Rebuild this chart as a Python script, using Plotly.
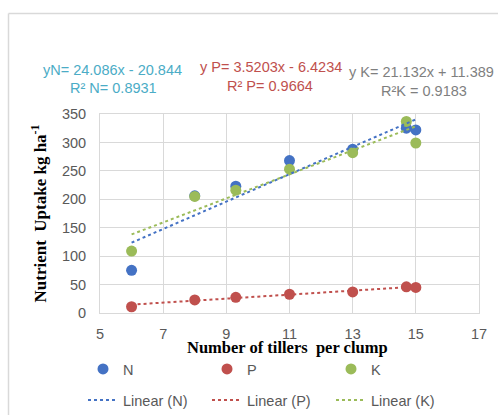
import plotly.graph_objects as go

tillers = [6, 8, 9.3, 11, 13, 14.7, 15]
N_vals = [75, 206, 223, 268, 288, 325, 322]
P_vals = [11, 23, 27.5, 33, 37, 46, 45]
K_vals = [109, 205, 216, 253, 282, 337, 299]

# trendline coefficients (slope, intercept) as printed on chart
N_fit = (24.086, -20.844)
P_fit = (3.5203, -6.4234)
K_fit = (21.132, 11.389)

x_ticks = [5, 7, 9, 11, 13, 15, 17]
y_ticks = [0, 50, 100, 150, 200, 250, 300, 350]

C_N, C_P, C_K = "#4472C4", "#C0504D", "#9BBB59"

W, H = 498, 415
L, R, T, B = 100, 19, 114, 102
pw, ph = W - L - R, H - T - B

def px(xp):
    return (xp - L) / pw

def py(yp):
    return (H - B - yp) / ph

fig = go.Figure()
for name, vals, col in [("N", N_vals, C_N), ("P", P_vals, C_P), ("K", K_vals, C_K)]:
    fig.add_trace(go.Scatter(x=tillers, y=vals, mode="markers", name=name,
                             marker=dict(color=col, size=11), legend="legend",
                             cliponaxis=False))

xmin, xmax = min(tillers), max(tillers)
for name, fit, col in [("N", N_fit, C_N), ("P", P_fit, C_P), ("K", K_fit, C_K)]:
    xs = [xmin, xmax]
    ys = [fit[0] * v + fit[1] for v in xs]
    fig.add_trace(go.Scatter(x=xs, y=ys, mode="lines", name=f"Linear ({name})",
                             line=dict(color=col, width=2, dash="dot"), legend="legend2"))

tickfont = dict(family="Liberation Sans, Arial", size=14.5, color="#595959")
fig.update_xaxes(range=[5, 17], tickvals=x_ticks, showgrid=True, gridcolor="#D9D9D9", gridwidth=1,
                 showline=True, linecolor="#D9D9D9", mirror=True, zeroline=False,
                 tickfont=tickfont, ticks="", ticklen=0, ticklabelstandoff=8)
fig.update_yaxes(range=[0, 350], tickvals=y_ticks, showgrid=True, gridcolor="#D9D9D9", gridwidth=1,
                 showline=True, linecolor="#D9D9D9", mirror=True, zeroline=False,
                 tickfont=tickfont, ticks="", ticklen=0, ticklabelstandoff=10,
                 title=dict(text="<b>Nutrient  Uptake kg ha<sup>-1</sup></b>", standoff=10,
                            font=dict(family="Liberation Serif, Times New Roman", size=17, color="black")))

ann_font = "Liberation Sans, Arial"
anns = [
    ("yN= 24.086x - 20.844", 112, 70, "#4BACC6"),
    ("R² N= 0.8931", 113, 88, "#4BACC6"),
    ("y P= 3.5203x - 6.4234", 271, 67, "#C0504D"),
    ("R² P= 0.9664", 270, 86, "#C0504D"),
    ("y K= 21.132x + 11.389", 421, 72, "#7F7F7F"),
    ("R²K = 0.9183", 424, 91, "#7F7F7F"),
]
annotations = [dict(text=t, x=px(xp), y=py(yp), xref="paper", yref="paper", showarrow=False,
                    xanchor="center", yanchor="middle",
                    font=dict(family=ann_font, size=14.5, color=c)) for t, xp, yp, c in anns]
annotations.append(dict(text="<b>Number of tillers  per clump</b>", x=px(287), y=py(347),
                        xref="paper", yref="paper", showarrow=False, xanchor="center", yanchor="middle",
                        font=dict(family="Liberation Serif, Times New Roman", size=16.5, color="black")))

shapes = [dict(type="line", xref="paper", yref="paper", x0=px(8.5), x1=px(500), y0=py(13.5), y1=py(13.5),
               line=dict(color="#D9D9D9", width=1.5)),
          dict(type="line", xref="paper", yref="paper", x0=px(8.5), x1=px(8.5), y0=py(13.5), y1=py(420),
               line=dict(color="#D9D9D9", width=1.5))]

legfont = dict(family="Liberation Sans, Arial", size=14.5, color="#595959")
fig.update_layout(
    width=W, height=H, margin=dict(l=L, r=R, t=T, b=B, autoexpand=False),
    paper_bgcolor="white", plot_bgcolor="white",
    annotations=annotations, shapes=shapes,
    legend=dict(orientation="h", x=px(83), y=py(369), xanchor="left", yanchor="middle",
                entrywidth=79, entrywidthmode="pixels", font=legfont, bgcolor="rgba(0,0,0,0)"),
    legend2=dict(orientation="h", x=px(83), y=py(400), xanchor="left", yanchor="middle",
                 entrywidth=79, entrywidthmode="pixels", font=legfont, bgcolor="rgba(0,0,0,0)"),
)

fig.write_html("out.html", post_script="document.body.style.margin='0';",
               config={"displayModeBar": False})
